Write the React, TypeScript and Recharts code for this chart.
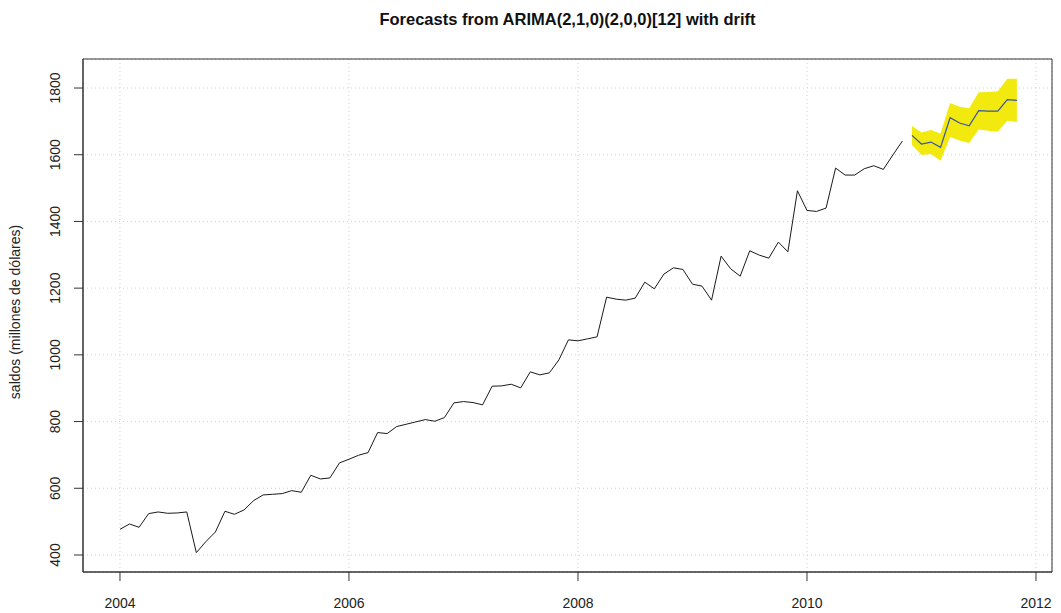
import {
  ComposedChart,
  Line,
  Area,
  XAxis,
  YAxis,
  CartesianGrid,
  ReferenceArea,
} from 'recharts';

// monthly balances, Jan 2004 .. Nov 2010
const saldos2004 = [477, 493, 483, 524, 529, 525, 526, 529, 407, 440, 469, 531];
const saldos2005 = [522, 535, 563, 580, 582, 584, 593, 588, 639, 628, 631, 676];
const saldos2006 = [687, 699, 707, 767, 764, 785, 792, 799, 806, 801, 812, 856];
const saldos2007 = [860, 857, 850, 906, 907, 912, 901, 949, 940, 946, 985, 1045];
const saldos2008 = [1042, 1048, 1054, 1173, 1167, 1164, 1170, 1218, 1198, 1242, 1261, 1256];
const saldos2009 = [1212, 1206, 1164, 1296, 1258, 1236, 1312, 1299, 1290, 1338, 1309, 1492];
const saldos2010 = [1433, 1430, 1440, 1560, 1539, 1539, 1558, 1567, 1556, 1599, 1641];

// 12-step forecast, Dec 2010 .. Nov 2011
const pronostico = [1658, 1632, 1638, 1622, 1711, 1695, 1687, 1732, 1731, 1731, 1765, 1763];
const limiteSup = [1686, 1667, 1674, 1664, 1755, 1744, 1739, 1787, 1788, 1790, 1828, 1828];
const limiteInf = [1629, 1599, 1602, 1582, 1653, 1643, 1635, 1676, 1672, 1669, 1702, 1698];

const xTicks = [2004, 2006, 2008, 2010, 2012];
const yTicks = [400, 600, 800, 1000, 1200, 1400, 1600, 1800];

const START_YEAR = 2004;
const FONT = '"Liberation Sans", Arial, Helvetica, sans-serif';

const observed = [
  ...saldos2004,
  ...saldos2005,
  ...saldos2006,
  ...saldos2007,
  ...saldos2008,
  ...saldos2009,
  ...saldos2010,
];

const rows: any[] = observed.map((v, i) => ({ t: START_YEAR + i / 12, obs: v }));
pronostico.forEach((v, i) => {
  rows.push({
    t: START_YEAR + (observed.length + i) / 12,
    fc: v,
    band: [limiteInf[i], limiteSup[i]],
  });
});

const X_DOMAIN: [number, number] = [2003.677, 2012.14];
const Y_DOMAIN: [number, number] = [349, 1887];

function XTick({ x, y, payload }: any) {
  return (
    <text x={x} y={y + 25} textAnchor="middle" fontSize={14} fill="#222" fontFamily={FONT}>
      {payload.value}
    </text>
  );
}

function YTick({ y, payload }: any) {
  const cx = 60;
  return (
    <text
      x={cx}
      y={y}
      transform={`rotate(-90, ${cx}, ${y})`}
      textAnchor="middle"
      fontSize={14}
      fill="#222"
      fontFamily={FONT}
    >
      {payload.value}
    </text>
  );
}

export default function App() {
  return (
    <div style={{ position: 'absolute', left: 0, top: 0, width: 1061, height: 613, background: '#fff' }}>
      <div
        style={{
          position: 'absolute',
          top: 10,
          left: 83,
          width: 969,
          textAlign: 'center',
          fontFamily: FONT,
          fontWeight: 'bold',
          fontSize: 16.5,
          color: '#111',
        }}
      >
        Forecasts from ARIMA(2,1,0)(2,0,0)[12] with drift
      </div>
      <div
        style={{
          position: 'absolute',
          left: 15,
          top: 312,
          transform: 'translate(-50%, -50%) rotate(-90deg)',
          whiteSpace: 'nowrap',
          fontFamily: FONT,
          fontSize: 14,
          color: '#222',
        }}
      >
        saldos (millones de dólares)
      </div>
      <ComposedChart
        width={1061}
        height={613}
        data={rows}
        margin={{ top: 59, right: 9, left: 0, bottom: 0 }}
      >
        <CartesianGrid stroke="#d0d0d0" strokeDasharray="1 3" />
        <XAxis
          dataKey="t"
          type="number"
          domain={X_DOMAIN}
          ticks={xTicks}
          allowDataOverflow
          height={41}
          tickSize={9}
          stroke="#333"
          tick={<XTick />}
        />
        <YAxis
          type="number"
          domain={Y_DOMAIN}
          ticks={yTicks}
          allowDataOverflow
          width={83}
          tickSize={9}
          stroke="#333"
          tick={<YTick />}
        />
        <Area
          dataKey="band"
          stroke="none"
          fill="#F2EA0E"
          fillOpacity={1}
          isAnimationActive={false}
          connectNulls={false}
        />
        <Line
          dataKey="obs"
          stroke="#1a1a1a"
          strokeWidth={1}
          dot={false}
          connectNulls={false}
          isAnimationActive={false}
        />
        <Line
          dataKey="fc"
          stroke="#3a52a6"
          strokeWidth={1.2}
          dot={false}
          connectNulls={false}
          isAnimationActive={false}
        />
        {/* plot box */}
        <ReferenceArea
          x1={X_DOMAIN[0]}
          x2={X_DOMAIN[1]}
          y1={Y_DOMAIN[0]}
          y2={Y_DOMAIN[1]}
          fill="none"
          stroke="#333"
          strokeWidth={1}
          ifOverflow="visible"
        />
      </ComposedChart>
    </div>
  );
}
